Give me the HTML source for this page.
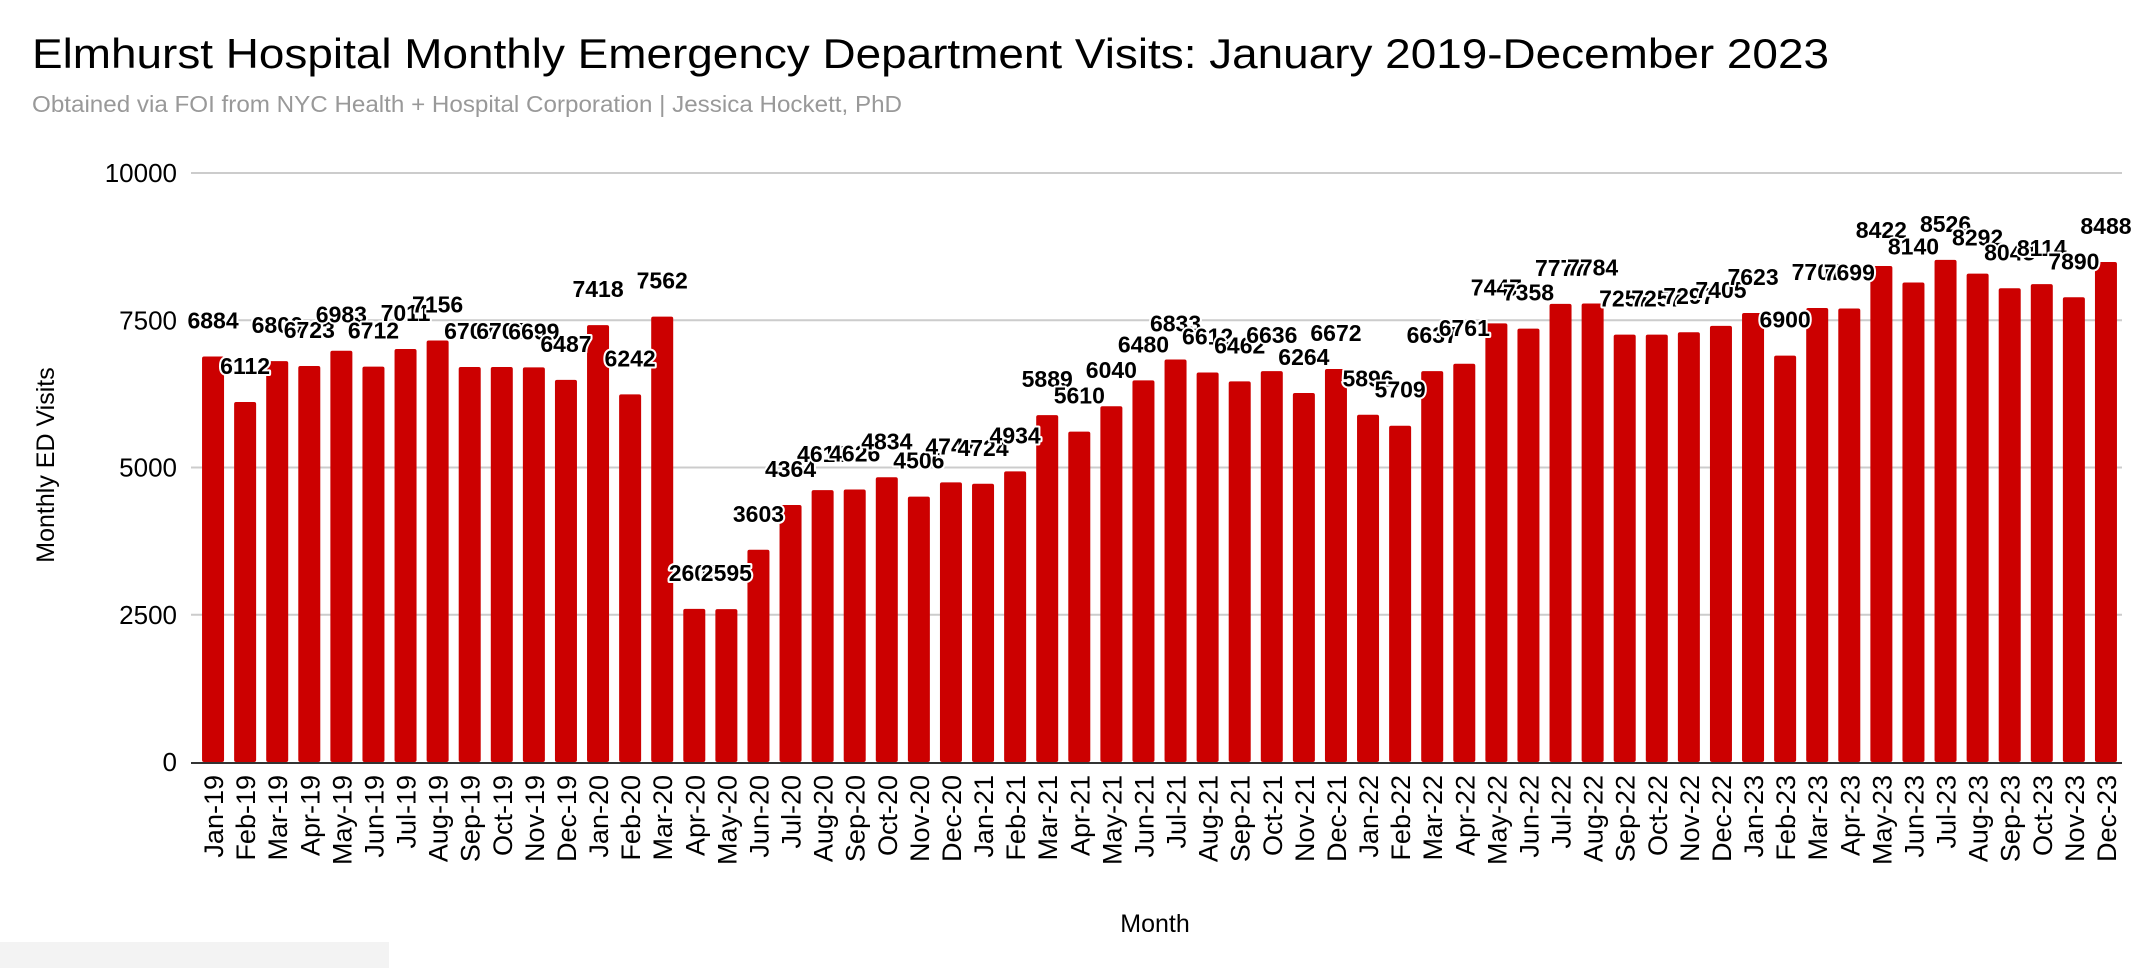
<!DOCTYPE html>
<html><head><meta charset="utf-8"><style>
html,body{margin:0;padding:0;background:#fff;}
svg{display:block;font-family:"Liberation Sans",Arial,sans-serif;}
</style></head><body>
<svg id="chart" width="2144" height="968" viewBox="0 0 2144 968" xmlns="http://www.w3.org/2000/svg">
<text x="32" y="68" font-size="42" fill="#000" textLength="1797" lengthAdjust="spacingAndGlyphs">Elmhurst Hospital Monthly Emergency Department Visits: January 2019-December 2023</text>
<text x="32" y="112" font-size="23" fill="#999" textLength="870" lengthAdjust="spacingAndGlyphs">Obtained via FOI from NYC Health + Hospital Corporation | Jessica Hockett, PhD</text>
<g id="grid"></g>
<g id="bars"></g>
<g id="labels"></g>
<g id="xticks"></g>
<text transform="translate(54,465) rotate(-90)" text-anchor="middle" font-size="25" fill="#000">Monthly ED Visits</text>
<text x="1155" y="932" text-anchor="middle" font-size="25" fill="#000">Month</text>
<rect x="0" y="942" width="389" height="26" fill="#f3f3f3"/>
</svg>
<script>
const categories = ["Jan-19","Feb-19","Mar-19","Apr-19","May-19","Jun-19","Jul-19","Aug-19","Sep-19","Oct-19","Nov-19","Dec-19",
"Jan-20","Feb-20","Mar-20","Apr-20","May-20","Jun-20","Jul-20","Aug-20","Sep-20","Oct-20","Nov-20","Dec-20",
"Jan-21","Feb-21","Mar-21","Apr-21","May-21","Jun-21","Jul-21","Aug-21","Sep-21","Oct-21","Nov-21","Dec-21",
"Jan-22","Feb-22","Mar-22","Apr-22","May-22","Jun-22","Jul-22","Aug-22","Sep-22","Oct-22","Nov-22","Dec-22",
"Jan-23","Feb-23","Mar-23","Apr-23","May-23","Jun-23","Jul-23","Aug-23","Sep-23","Oct-23","Nov-23","Dec-23"];
const visits = [6884,6112,6806,6723,6983,6712,7011,7156,6707,6707,6699,6487,
7418,6242,7562,2600,2595,3603,4364,4616,4626,4834,4506,4747,
4724,4934,5889,5610,6040,6480,6833,6612,6462,6636,6264,6672,
5896,5709,6637,6761,7447,7358,7777,7784,7257,7257,7297,7405,
7623,6900,7707,7699,8422,8140,8526,8292,8043,8114,7890,8488];
const yTicks = [0,2500,5000,7500,10000];

const NS="http://www.w3.org/2000/svg";
const plotL=197, plotR=2122, y0=762, yTop=173, yMax=10000;
const band=(plotR-plotL)/categories.length, barW=22;
function yScale(v){return y0-(v/yMax)*(y0-yTop);}
function xCenter(i){return plotL+band*(i+0.5);}
function mk(tag,attrs,parent){const e=document.createElementNS(NS,tag);for(const k in attrs)e.setAttribute(k,attrs[k]);parent.appendChild(e);return e;}
const grid=document.getElementById('grid'),bars=document.getElementById('bars'),labels=document.getElementById('labels'),xt=document.getElementById('xticks');
yTicks.forEach(t=>{
  const y=yScale(t);
  if(t>0){const l=mk('line',{x1:191,x2:2122,y1:y,y2:y,stroke:'#ccc','stroke-width':2},grid);
  
  }
  const tx=mk('text',{x:177,y:y+9,'text-anchor':'end','font-size':26,fill:'#000'},grid);
  tx.textContent=t;
  
  
});
visits.forEach((v,i)=>{
  const cx=xCenter(i), y=yScale(v);
  const r=mk('rect',{x:cx-barW/2,y:y,width:barW,height:y0-y,fill:'#cc0000',rx:2},bars);
  
  
  const lb=mk('text',{x:cx,y:y-28,'text-anchor':'middle','font-size':23,'font-weight':'bold',fill:'#000',stroke:'#fff','stroke-width':4,'paint-order':'stroke','stroke-linejoin':'round'},labels);
  lb.textContent=v;
  
  
  const xl=mk('text',{transform:`translate(${cx+10},775) rotate(-90)`,'text-anchor':'end','font-size':27,fill:'#000'},xt);
  xl.textContent=categories[i];
  
  
});
const ax=mk('line',{x1:191,x2:2122,y1:y0+1,y2:y0+1,stroke:'#333','stroke-width':2},grid);


</script>
</body></html>
